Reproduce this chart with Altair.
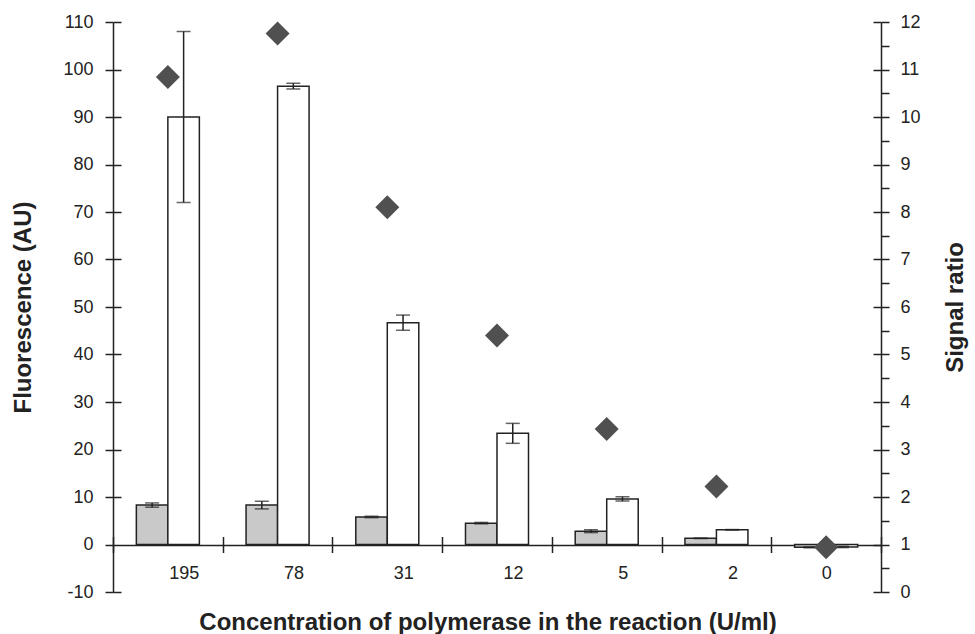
import altair as alt
import pandas as pd

# ---- data ----
concentrations = ['195', '78', '31', '12', '5', '2', '0']
series_names = ['background', 'signal']
background_vals = [8.3, 8.3, 5.8, 4.5, 2.8, 1.3, -0.6]
background_err = [0.45, 0.8, 0.15, 0.15, 0.3, 0.05, 0.1]
signal_vals = [90.0, 96.5, 46.7, 23.4, 9.6, 3.1, -0.5]
signal_err = [18.0, 0.6, 1.6, 2.1, 0.45, 0.05, 0.15]
signal_ratio = [10.84, 11.76, 8.1, 5.4, 3.43, 2.22, 0.94]
left_ticks = [-10, 0, 10, 20, 30, 40, 50, 60, 70, 80, 90, 100, 110]
right_ticks = [0, 0.5, 1, 1.5, 2, 2.5, 3, 3.5, 4, 4.5, 5, 5.5, 6, 6.5, 7, 7.5,
               8, 8.5, 9, 9.5, 10, 10.5, 11, 11.5, 12]

rows = []
for c, bv, be, sv, se in zip(concentrations, background_vals, background_err,
                             signal_vals, signal_err):
    rows.append(dict(conc=c, series='background', value=bv, lo=bv - be, hi=bv + be))
    rows.append(dict(conc=c, series='signal', value=sv, lo=sv - se, hi=sv + se))
bars_df = pd.DataFrame(rows)
ratio_df = pd.DataFrame({'conc': concentrations, 'ratio': signal_ratio})

FONT = 'Liberation Sans'
INK = '#222222'
W, H = 768, 570

left_scale = alt.Scale(domain=[-10, 110], nice=False, zero=False)
right_scale = alt.Scale(domain=[0, 12], nice=False, zero=False)

x_axis = alt.Axis(
    title='Concentration of polymerase in the reaction (U/ml)', orient='bottom',
    offset=-55.5, domain=False, grid=False, tickBand='extent', tickSize=16,
    tickWidth=1.5, tickColor=INK, labelAngle=0, labelPadding=12,
    labelFont=FONT, labelFontSize=18, labelColor=INK,
    labelOffset={'condition': {'test': "datum.value === '0'", 'value': 0}, 'value': 16},
    titleFont=FONT, titleFontSize=24, titleFontWeight='bold', titleColor=INK,
    titleX=374.5, titleY=86, titleAlign='center', titleBaseline='middle')

left_axis = alt.Axis(
    title='Fluorescence (AU)', orient='left', values=left_ticks,
    labelExpr="datum.value + ''",
    domain=True, domainColor=INK, domainWidth=1.5,
    ticks=True, tickSize=8, tickWidth=1.5, tickColor=INK,
    grid=True, gridColor=INK, gridWidth=1.5,
    gridDash={'condition': {'test': 'datum.value === 0', 'value': [1, 0]},
              'value': [8, 4000]},
    labelPadding=12, labelFont=FONT, labelFontSize=18, labelColor=INK,
    labelOverlap=False,
    titleFont=FONT, titleFontSize=24, titleFontWeight='bold', titleColor=INK,
    titleX=-90, titleY=H / 2, titleAngle=270, titleAlign='center',
    titleBaseline='middle')

right_axis = alt.Axis(
    title='Signal ratio', orient='right', values=right_ticks, format='.0f',
    domain=True, domainColor=INK, domainWidth=1.5,
    ticks=True, tickSize=8, tickWidth=1.5, tickColor=INK,
    grid=True, gridColor=INK, gridWidth=1.5, gridDash=[8, 4000],
    gridOpacity={'condition': {'test': 'datum.value % 1 === 0', 'value': 1},
                 'value': 0},
    labelExpr="datum.value % 1 === 0 ? datum.label : ''",
    labelPadding=11, labelFont=FONT, labelFontSize=18, labelColor=INK,
    labelOverlap=False,
    titleFont=FONT, titleFontSize=24, titleFontWeight='bold', titleColor=INK,
    titleX=74, titleY=H / 2, titleAngle=270, titleAlign='center',
    titleBaseline='middle')


def xenc():
    return alt.X('conc:N', sort=concentrations,
                 scale=alt.Scale(paddingInner=0, paddingOuter=0), axis=x_axis)


def xoff():
    return alt.XOffset('series:N', sort=series_names,
                       scale=alt.Scale(domain=series_names, paddingInner=0,
                                       paddingOuter=0.741))


bars = alt.Chart(bars_df).mark_bar(stroke=INK, strokeWidth=1.5).encode(
    x=xenc(),
    xOffset=xoff(),
    y=alt.Y('value:Q', scale=left_scale, axis=left_axis),
    fill=alt.Fill('series:N', scale=alt.Scale(domain=series_names,
                                              range=['#c9c9c9', '#ffffff']),
                  legend=None),
)

err_rules = alt.Chart(bars_df).mark_rule(color=INK, strokeWidth=1.5).encode(
    x=xenc(),
    xOffset=xoff(),
    y=alt.Y('lo:Q', scale=left_scale, axis=left_axis),
    y2='hi:Q',
)

err_caps = alt.Chart(bars_df).transform_fold(
    ['lo', 'hi'], as_=['end', 'yv']
).mark_tick(color=INK, thickness=1.5, size=14, orient='horizontal').encode(
    x=xenc(),
    xOffset=xoff(),
    y=alt.Y('yv:Q', scale=left_scale, axis=left_axis),
)

left_group = alt.layer(bars, err_rules, err_caps)

points = alt.Chart(ratio_df).mark_point(
    shape='diamond', filled=True, size=576, color='#505050', opacity=1
).encode(
    x=xenc(),
    y=alt.Y('ratio:Q', scale=right_scale, axis=right_axis),
)

chart = alt.layer(left_group, points).resolve_scale(y='independent').properties(
    width=W, height=H,
    autosize=alt.AutoSizeParams(type='none'),
    padding={'left': 113, 'top': 22, 'right': 94, 'bottom': 42},
    background='white',
).configure_view(stroke=None)

chart.save('out.html', embed_options={'renderer': 'svg', 'actions': False})
